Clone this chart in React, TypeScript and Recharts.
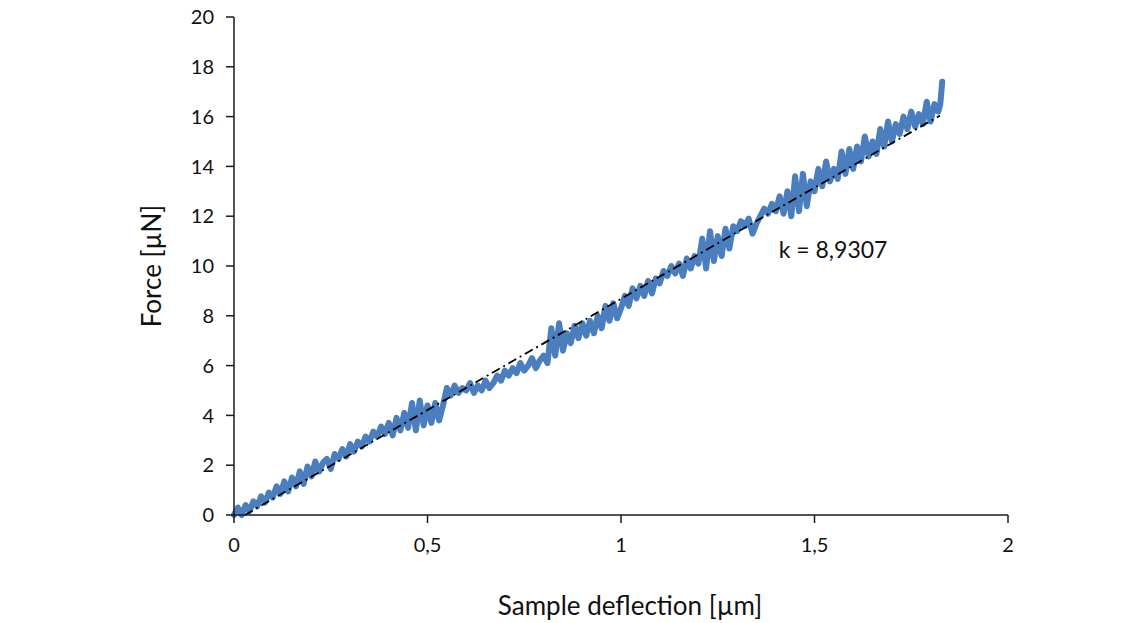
import { LineChart, Line, XAxis, YAxis, ReferenceDot } from 'recharts';

// measured curve (sample deflection in µm, force in µN)
const deflection = [
  0.0, 0.01, 0.02, 0.03, 0.04, 0.05, 0.06, 0.07, 0.08, 0.09,
  0.1, 0.11, 0.12, 0.13, 0.14, 0.15, 0.16, 0.17, 0.18, 0.19,
  0.2, 0.21, 0.22, 0.23, 0.24, 0.25, 0.26, 0.27, 0.28, 0.29,
  0.3, 0.31, 0.32, 0.33, 0.34, 0.35, 0.36, 0.37, 0.38, 0.39,
  0.4, 0.41, 0.42, 0.43, 0.44, 0.45, 0.46, 0.47, 0.48, 0.49,
  0.5, 0.51, 0.52, 0.53, 0.54, 0.55, 0.56, 0.57, 0.58, 0.59,
  0.6, 0.61, 0.62, 0.63, 0.64, 0.65, 0.66, 0.67, 0.68, 0.69,
  0.7, 0.71, 0.72, 0.73, 0.74, 0.75, 0.76, 0.77, 0.78, 0.79,
  0.8, 0.81, 0.82, 0.83, 0.84, 0.85, 0.86, 0.87, 0.88, 0.89,
  0.9, 0.91, 0.92, 0.93, 0.94, 0.95, 0.96, 0.97, 0.98, 0.99,
  1.0, 1.01, 1.02, 1.03, 1.04, 1.05, 1.06, 1.07, 1.08, 1.09,
  1.1, 1.11, 1.12, 1.13, 1.14, 1.15, 1.16, 1.17, 1.18, 1.19,
  1.2, 1.21, 1.22, 1.23, 1.24, 1.25, 1.26, 1.27, 1.28, 1.29,
  1.3, 1.31, 1.32, 1.33, 1.34, 1.35, 1.36, 1.37, 1.38, 1.39,
  1.4, 1.41, 1.42, 1.43, 1.44, 1.45, 1.46, 1.47, 1.48, 1.49,
  1.5, 1.51, 1.52, 1.53, 1.54, 1.55, 1.56, 1.57, 1.58, 1.59,
  1.6, 1.61, 1.62, 1.63, 1.64, 1.65, 1.66, 1.67, 1.68, 1.69,
  1.7, 1.71, 1.72, 1.73, 1.74, 1.75, 1.76, 1.77, 1.78, 1.79,
  1.8, 1.81, 1.82, 1.825, 1.83,
];

const force = [
  0.0, 0.3, 0.0, 0.4, 0.15, 0.55, 0.35, 0.75, 0.5, 0.9,
  0.7, 1.15, 0.85, 1.35, 0.95, 1.5, 1.15, 1.75, 1.25, 1.95,
  1.55, 2.15, 1.75, 2.1, 2.25, 1.85, 2.45, 2.25, 2.65, 2.35,
  2.85, 2.55, 2.95, 2.75, 3.15, 2.95, 3.35, 3.15, 3.55, 3.25,
  3.7, 3.2, 3.9, 3.4, 4.1, 3.5, 4.5, 3.4, 4.6, 3.6,
  4.4, 3.7, 4.5, 3.8, 4.4, 5.1, 4.8, 5.2, 4.9, 5.1,
  5.0, 5.3, 4.9, 5.2, 5.0, 5.4, 5.1, 5.3, 5.6, 5.4,
  5.8, 5.6, 5.9, 5.7, 6.1, 5.8, 6.0, 6.3, 5.9, 6.2,
  6.4, 6.1, 7.5, 6.4, 7.7, 6.6, 7.3, 6.9, 7.6, 7.1,
  7.7, 7.2, 7.8, 7.3, 8.0, 7.5, 8.4, 7.8, 8.5, 7.9,
  8.3, 8.8, 8.4, 9.1, 8.7, 9.2, 8.8, 9.4, 8.9, 9.5,
  9.3, 9.8, 9.6, 10.0, 9.7, 10.1, 9.6, 10.3, 9.9, 10.4,
  10.1, 11.1, 9.9, 11.4, 10.2, 11.2, 10.4, 11.5, 10.7, 11.6,
  11.4, 11.8, 11.6, 11.9, 11.3, 11.7, 12.0, 12.3, 12.1, 12.5,
  12.2, 12.8, 12.1, 13.0, 12.0, 13.6, 12.2, 13.7, 12.4, 13.4,
  13.0, 13.9, 13.2, 14.2, 13.4, 13.9, 13.5, 14.6, 13.7, 14.7,
  13.9, 14.8, 14.2, 15.2, 14.4, 15.0, 14.5, 15.5, 14.8, 15.8,
  15.0, 15.7, 15.3, 16.0, 15.5, 16.2, 15.6, 16.1, 15.7, 16.6,
  15.8, 16.5, 16.2, 16.5, 17.4,
];

// linear fit, k = 8,9307
const fitDeflection = [0.028, 1.824];
const fitForce = [0, 16.04];

const xTicks = [0, 0.5, 1, 1.5, 2];
const yTicks = [0, 2, 4, 6, 8, 10, 12, 14, 16, 18, 20];

const measured = deflection.map((x, i) => ({ x, y: force[i] }));
const fit = fitDeflection.map((x, i) => ({ x, y: fitForce[i] }));

const font = 'Lato, "Open Sans", sans-serif';
const axisColor = '#1a1a1a';

export default function App() {
  return (
    <div style={{ position: 'absolute', left: 0, top: 0, width: 1138, height: 623, background: '#fff', fontFamily: font }}>
      <LineChart width={1138} height={623} margin={{ top: 17, right: 130, bottom: 0, left: 0 }}>
        <XAxis
          type="number"
          dataKey="x"
          domain={[0, 2]}
          ticks={xTicks}
          tickFormatter={(v: number) => String(v).replace('.', ',')}
          height={108}
          tickSize={8}
          tickMargin={15}
          stroke={axisColor}
          strokeWidth={1.5}
          tick={{ fill: '#111', fontSize: 20, fontFamily: font }}
          label={{ value: 'Sample deflection [µm]', position: 'center', dy: 37, dx: 9, fill: '#111', fontSize: 26, fontFamily: font }}
        />
        <YAxis
          type="number"
          dataKey="y"
          domain={[0, 20]}
          ticks={yTicks}
          width={234}
          tickSize={8}
          tickMargin={12}
          stroke={axisColor}
          strokeWidth={1.5}
          tick={{ fill: '#111', fontSize: 20, fontFamily: font }}
          label={{ value: 'Force [µN]', angle: -90, position: 'center', dx: 35, fill: '#111', fontSize: 26, fontFamily: font }}
        />
        <Line
          data={measured}
          dataKey="y"
          type="linear"
          stroke="#4a7ebf"
          strokeWidth={6}
          strokeLinejoin="round"
          strokeLinecap="round"
          dot={false}
          isAnimationActive={false}
        />
        <Line
          data={fit}
          dataKey="y"
          type="linear"
          stroke="#000"
          strokeWidth={1.8}
          strokeDasharray="9 4 2 4"
          dot={false}
          isAnimationActive={false}
        />
        <ReferenceDot
          x={1.548}
          y={10.64}
          r={0}
          fill="none"
          stroke="none"
          label={{ value: 'k = 8,9307', position: 'center', fill: '#111', fontSize: 23, fontFamily: font }}
        />
      </LineChart>
    </div>
  );
}
